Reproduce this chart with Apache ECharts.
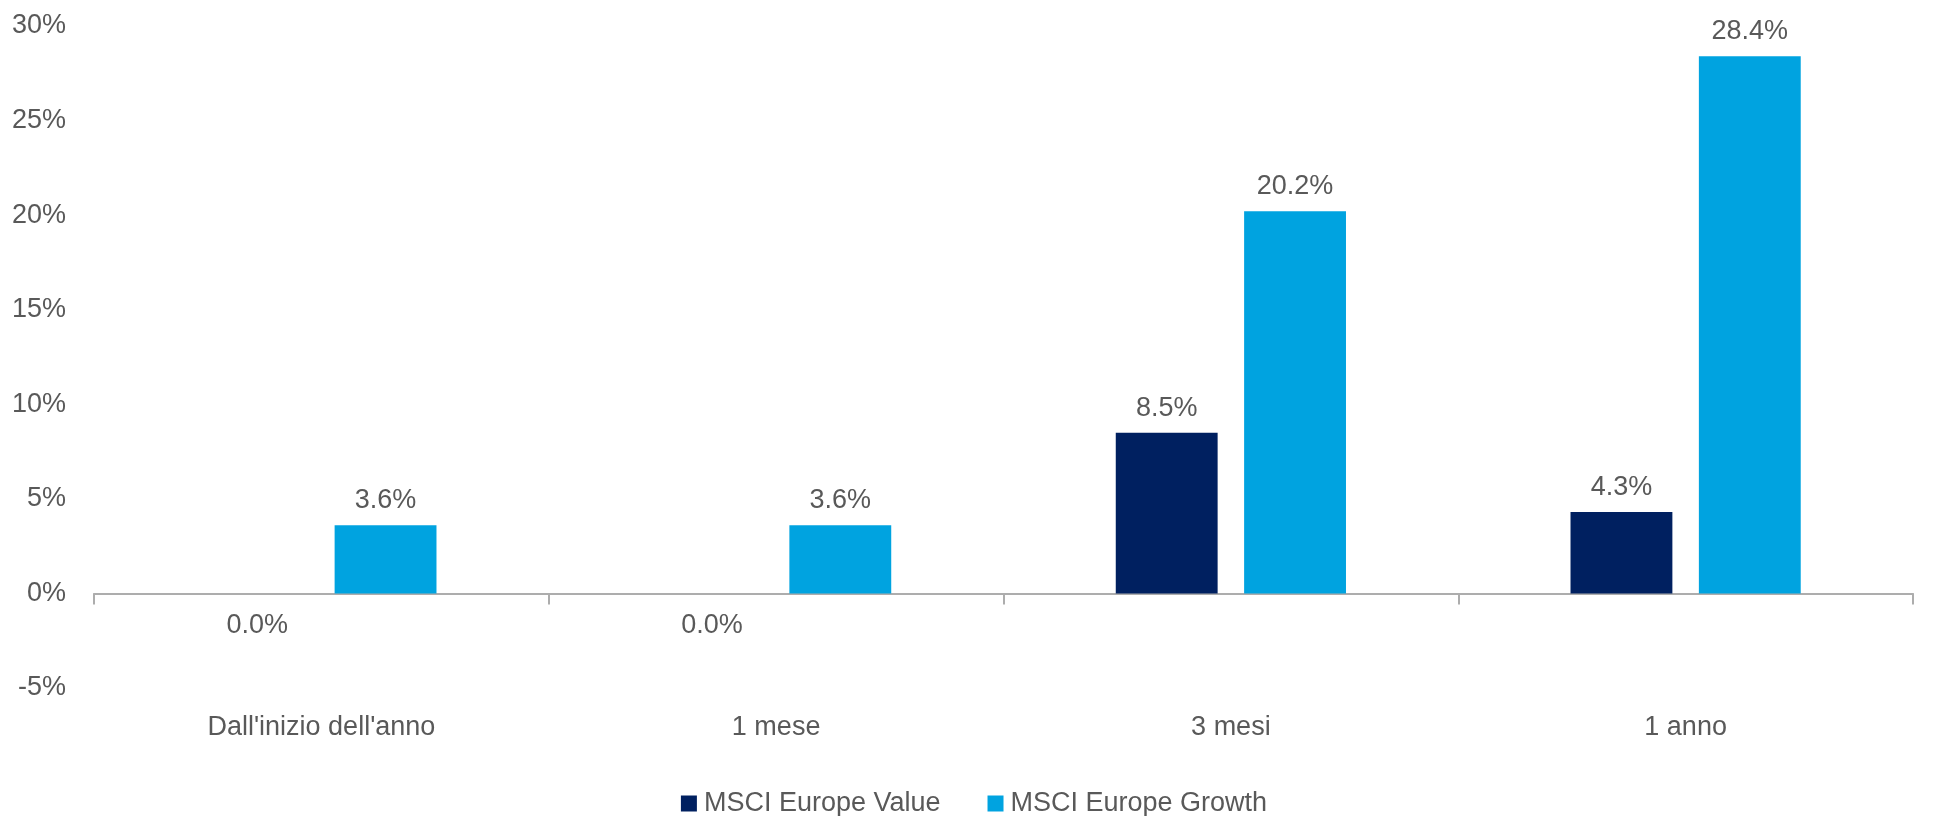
<!DOCTYPE html>
<html>
<head>
<meta charset="utf-8">
<script src="https://cdn.jsdelivr.net/npm/echarts@6/dist/echarts.min.js"></script>
<style>
html,body{margin:0;padding:0;background:#fff;}
#chart{width:1948px;height:816px;}
</style>
</head>
<body>
<div id="chart"></div>
<script>
const categories = ["Dall'inizio dell'anno", "1 mese", "3 mesi", "1 anno"];
const seriesNames = ["MSCI Europe Value", "MSCI Europe Growth"];
const valueData = [0.0, 0.0, 8.5, 4.3];
const growthData = [3.6, 3.6, 20.2, 28.4];
const yTicks = { min: -5, max: 30, interval: 5 };

const FONT = "'Liberation Sans', Arial, sans-serif";
const TEXT = '#595959';
const FS = 27;

function withLabels(arr) {
  return arr.map(v => ({
    value: v,
    label: v === 0 ? { position: 'bottom', distance: 19 } : { position: 'top', distance: 11 }
  }));
}

const chart = echarts.init(document.getElementById('chart'), null, { renderer: 'canvas' });
chart.setOption({
  animation: false,
  backgroundColor: '#ffffff',
  textStyle: { fontFamily: FONT },
  grid: { left: 94, right: 35, top: 26, bottom: 128, containLabel: false, outerBoundsMode: 'none' },
  legend: {
    data: seriesNames,
    top: 785,
    left: 'center',
    icon: 'rect',
    itemWidth: 16,
    itemHeight: 16,
    itemGap: 47,
    textStyle: { fontFamily: FONT, fontSize: FS, color: TEXT, padding: [0, 0, 0, 2] }
  },
  xAxis: {
    type: 'category',
    data: categories,
    axisLine: { onZero: true, lineStyle: { color: '#ADADAD', width: 2 } },
    axisTick: { show: true, alignWithLabel: false, length: 11, lineStyle: { color: '#ADADAD', width: 2 } },
    axisLabel: { margin: 26, fontFamily: FONT, fontSize: FS, color: TEXT },
    splitLine: { show: false }
  },
  yAxis: {
    type: 'value',
    min: yTicks.min,
    max: yTicks.max,
    interval: yTicks.interval,
    axisLine: { show: false },
    axisTick: { show: false },
    splitLine: { show: false },
    axisLabel: { margin: 28, fontFamily: FONT, fontSize: FS, color: TEXT, formatter: '{value}%' }
  },
  series: [
    {
      name: seriesNames[0],
      type: 'bar',
      data: withLabels(valueData),
      barWidth: '22.4%',
      barGap: '26%',
      itemStyle: { color: '#002060' },
      label: {
        show: true, fontFamily: FONT, fontSize: FS, color: TEXT,
        formatter: p => p.value.toFixed(1) + '%'
      }
    },
    {
      name: seriesNames[1],
      type: 'bar',
      data: withLabels(growthData),
      barWidth: '22.4%',
      barGap: '26%',
      itemStyle: { color: '#00A3E0' },
      label: {
        show: true, fontFamily: FONT, fontSize: FS, color: TEXT,
        formatter: p => p.value.toFixed(1) + '%'
      }
    }
  ]
});
</script>
</body>
</html>
